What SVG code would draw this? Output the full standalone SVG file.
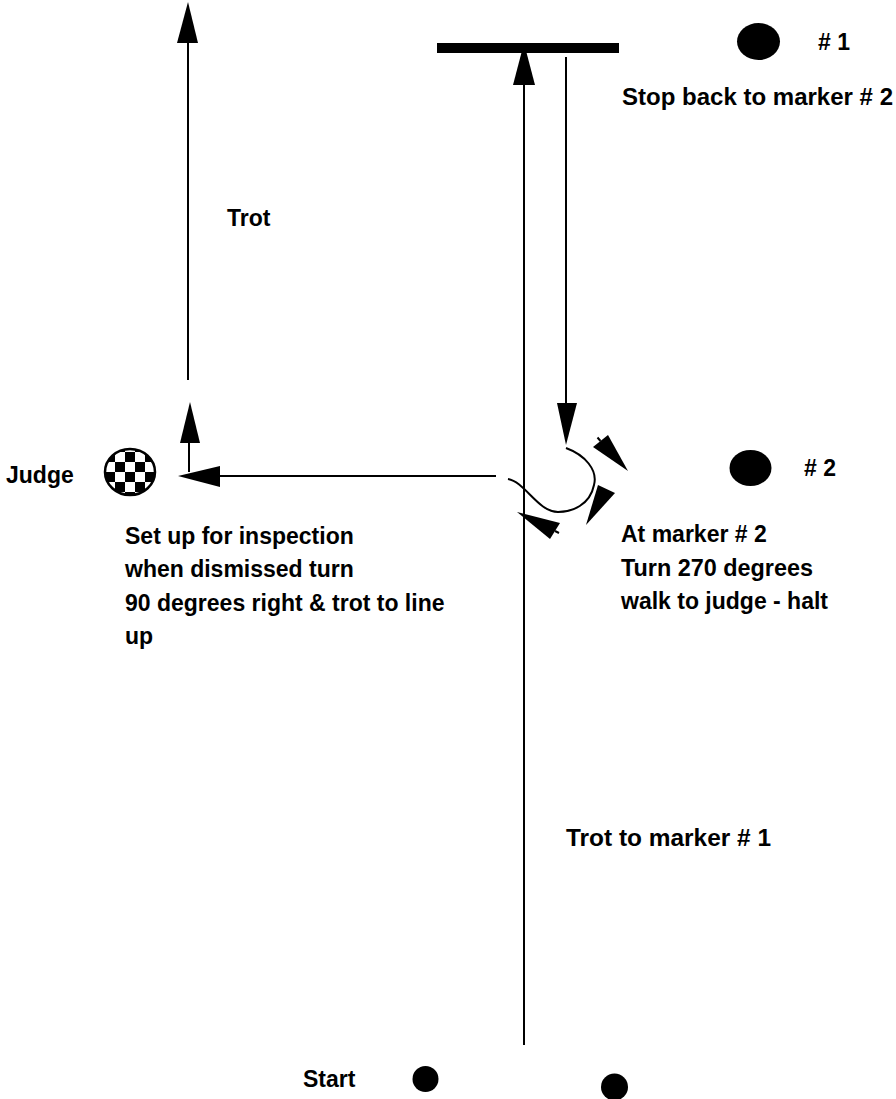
<svg xmlns="http://www.w3.org/2000/svg" width="896" height="1099" viewBox="0 0 896 1099">
<style>
text{font-family:"Liberation Sans",Arial,sans-serif;font-weight:bold;font-size:23px;fill:#000}
.ln{stroke:#000;stroke-width:2;fill:none}
.ah{fill:#000;stroke:none}
.dot{fill:#000}
</style>
<defs>
<pattern id="chk" patternUnits="userSpaceOnUse" x="105" y="452" width="20" height="20">
<rect width="20" height="20" fill="#fff"/>
<rect width="10" height="10" fill="#000"/>
<rect x="10" y="10" width="10" height="10" fill="#000"/>
</pattern>
</defs>
<g id="bar"><rect x="437" y="43" width="182" height="10" fill="#000"/></g>
<g id="marker1"><ellipse class="dot" cx="758.5" cy="41.5" rx="21.5" ry="18.5"/><text x="818" y="50"># 1</text></g>
<g id="marker2"><ellipse class="dot" cx="750.5" cy="468" rx="21" ry="18"/><text x="804" y="476"># 2</text></g>
<g id="start"><circle class="dot" cx="425.5" cy="1079" r="13"/><circle class="dot" cx="614.5" cy="1087" r="13.5"/><text x="303" y="1087">Start</text></g>
<g id="judge"><ellipse cx="130" cy="472" rx="25" ry="23" fill="url(#chk)" stroke="#000" stroke-width="2.5"/><text x="6" y="483">Judge</text></g>
<g id="connectors">
<line class="ln" x1="524" y1="1045" x2="524" y2="84"/>
<polygon class="ah" points="524,43 535,85 513,85"/>
<line class="ln" x1="566" y1="57" x2="566" y2="404"/>
<polygon class="ah" points="566,445 557,403 577,403"/>
<line class="ln" x1="188" y1="380" x2="188" y2="42"/>
<polygon class="ah" points="188,2 198,43 177,43"/>
<line class="ln" x1="189" y1="472" x2="189" y2="442"/>
<polygon class="ah" points="190,402 200,443 180,443"/>
<line class="ln" x1="496" y1="476" x2="219" y2="476"/>
<polygon class="ah" points="178,476 220,466 220,487"/>
<path class="ln" d="M566,448 C585,455 598,470 594,485 C590,505 572,512 558,512 C538,512 525,482 508,479"/>
<polygon class="ah" points="593,447 608,435 628,471"/>
<line class="ln" x1="600.5" y1="441" x2="597.5" y2="437.5"/>
<polygon class="ah" points="598,485 615,493 586,525"/>
<polygon class="ah" points="517,512 550,539 560,523"/>
<line class="ln" x1="555" y1="531" x2="559" y2="533"/>
</g>
<g id="labels">
<text x="622" y="105" textLength="271" lengthAdjust="spacingAndGlyphs">Stop back to marker # 2</text>
<text x="227" y="226">Trot</text>
<text x="621" y="542">At marker # 2</text>
<text x="621" y="576" textLength="192" lengthAdjust="spacingAndGlyphs">Turn 270 degrees</text>
<text x="621" y="609">walk to judge - halt</text>
<text x="125" y="544">Set up for inspection</text>
<text x="125" y="577">when dismissed turn</text>
<text x="125" y="611">90 degrees right &amp; trot to line</text>
<text x="125" y="644">up</text>
<text x="566" y="846" textLength="205" lengthAdjust="spacingAndGlyphs">Trot to marker # 1</text>
</g>
</svg>
